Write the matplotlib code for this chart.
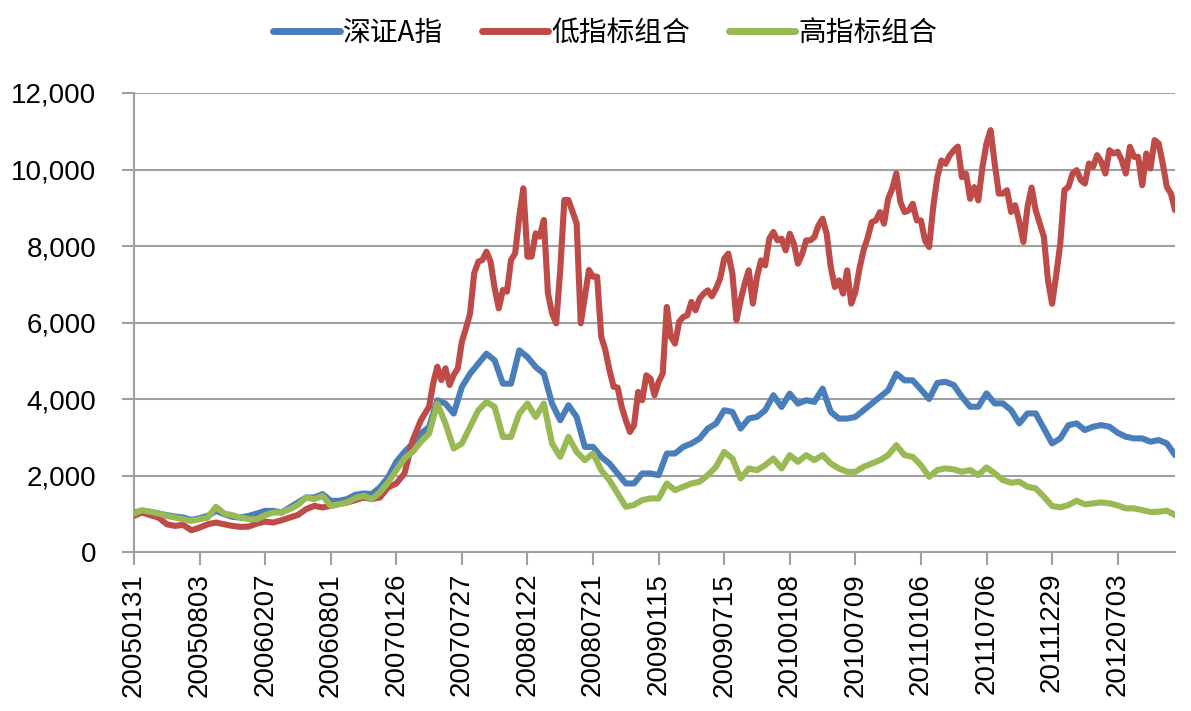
import numpy as np
import matplotlib
matplotlib.use('Agg')
import matplotlib.pyplot as plt
from matplotlib.ticker import FuncFormatter

# ---- data ----
tick_dates = ['20050131', '20050803', '20060207', '20060801', '20070126',
              '20070727', '20080122', '20080721', '20090115', '20090715',
              '20100108', '20100709', '20110106', '20110706', '20111229',
              '20120703']
days_per_tick = 120          # trading days between labelled categories
sample_step = 15             # trading days between sampled values
fine_step = 7.5              # finer sampling used for the volatile low-indicator series
fine_start_day = 540

series_names = ['深证A指', '低指标组合', '高指标组合']

sz_a = [1033, 1076, 1050, 1006, 963, 928, 901, 840, 884, 945, 1076, 989, 919, 901, 945, 1006,
        1076, 1076, 1033, 1164, 1295, 1426, 1426, 1514, 1339, 1339, 1383, 1496, 1531, 1514, 1689, 1951,
        2358, 2619, 2836, 3097, 3271, 3967, 3880, 3619, 4315, 4663, 4924, 5185, 5011, 4402, 4402, 5272,
        5098, 4837, 4663, 3880, 3445, 3837, 3532, 2749, 2749, 2488, 2314, 2053, 1792, 1792, 2053, 2053,
        2010, 2575, 2575, 2749, 2836, 2967, 3228, 3358, 3706, 3663, 3228, 3489, 3532, 3706, 4098, 3793,
        4141, 3880, 3967, 3924, 4272, 3663, 3489, 3489, 3532, 3706, 3880, 4054, 4228, 4663, 4489, 4489,
        4250, 4000, 4420, 4451, 4364, 4059, 3798, 3798, 4146, 3885, 3885, 3710, 3362, 3623, 3623, 3231,
        2839, 2970, 3318, 3362, 3188, 3275, 3318, 3275, 3118, 3014, 2970, 2970, 2883, 2927, 2839, 2535]

low_combo_early = [945, 1033, 963, 901, 726, 683, 709, 569, 639, 726, 770, 726, 683, 656, 665, 744,
                   796, 770, 831, 901, 971, 1120, 1208, 1164, 1208, 1251, 1295, 1356, 1426, 1383, 1426,
                   1689, 1792, 2053, 2923, 3445]

low_combo_late = [3800, 4410, 4845, 4497, 4802, 4366, 4627, 4802, 5499, 5847, 6240, 7285, 7590, 7634,
                  7852, 7590, 6893, 6370, 6850, 6806, 7634, 7808, 8767, 9508, 7721, 7721, 8331, 8244,
                  8680, 6763, 6240, 5978, 7372, 9203, 9203, 8898, 8593, 5978, 6675, 7372, 7198, 7198,
                  5630, 5281, 4758, 4322, 4300, 3793, 3445, 3140, 3314, 4185, 3967, 4620, 4533, 4098,
                  4446, 4664, 6406, 5622, 5448, 6014, 6145, 6188, 6537, 6319, 6624, 6754, 6842, 6685,
                  6885, 7146, 7669, 7800, 7277, 6060, 6580, 7016, 7364, 6493, 7190, 7625, 7495, 8192,
                  8366, 8148, 8192, 7887, 8322, 8061, 7538, 7780, 8147, 8147, 8234, 8538, 8712, 8321,
                  7451, 6929, 7103, 6755, 7364, 6494, 6798, 7407, 7886, 8216, 8625, 8669, 8886, 8582,
                  9234, 9495, 9900, 9147, 8886, 8930, 9104, 8669, 8669, 8147, 7973, 9017, 9800, 10235,
                  10148, 10365, 10496, 10600, 9800, 9887, 9234, 9539, 9191, 10061, 10681, 11030, 10157,
                  9371, 9371, 9459, 8891, 9066, 8629, 8106, 9022, 9529, 8935, 8586, 8237, 7102, 6490,
                  7233, 8062, 9459, 9546, 9895, 9983, 9721, 9633, 10157, 10070, 10375, 10201, 9895,
                  10506, 10419, 10463, 10244, 9895, 10594, 10332, 10332, 9590, 10419, 10026, 10768,
                  10681, 10157, 9546, 9371, 8935]

high_combo = [1006, 1094, 1050, 1006, 945, 901, 858, 814, 858, 901, 1181, 1006, 963, 901, 858, 858,
              963, 1033, 1033, 1120, 1234, 1426, 1383, 1470, 1208, 1251, 1295, 1409, 1470, 1383, 1558, 1820,
              2140, 2445, 2619, 2880, 3097, 3880, 3358, 2706, 2836, 3271, 3706, 3924, 3793, 3010, 3010, 3619,
              3880, 3532, 3880, 2836, 2488, 3010, 2619, 2401, 2575, 2140, 1879, 1531, 1180, 1230, 1357, 1401,
              1401, 1792, 1618, 1705, 1792, 1836, 2010, 2227, 2619, 2445, 1923, 2184, 2140, 2271, 2445, 2184,
              2532, 2358, 2532, 2401, 2532, 2314, 2184, 2097, 2097, 2227, 2314, 2401, 2532, 2793, 2532, 2488,
              2271, 1966, 2143, 2186, 2160, 2099, 2143, 2012, 2212, 2056, 1881, 1812, 1838, 1707, 1664, 1446,
              1202, 1167, 1228, 1341, 1246, 1272, 1298, 1272, 1219, 1141, 1141, 1097, 1045, 1054, 1080, 967]

colors = ['#4A7EBB', '#BE4B48', '#98B954']

# ---- figure ----
plt.rcParams['font.family'] = ['Liberation Sans', 'DejaVu Sans']
fig = plt.figure(figsize=(11.91, 7.11), dpi=100)
ax = fig.add_axes([0.1125, 0.2236, 0.8741, 0.6456])

x_std = np.arange(len(sz_a)) * sample_step
x_low = np.concatenate([np.arange(len(low_combo_early)) * sample_step,
                        fine_start_day + np.arange(len(low_combo_late)) * fine_step])
low_combo = low_combo_early + low_combo_late

for xs, vals, name, c in zip([x_std, x_low, x_std], [sz_a, low_combo, high_combo],
                             series_names, colors):
    ax.plot(xs, vals, color=c, lw=4.4, label=name, solid_joinstyle='round',
            solid_capstyle='round', zorder=3)

grid_c = '#A0A0A0'
ax.set_ylim(0, 12000)
ax.set_yticks(np.arange(0, 12001, 2000))
ax.yaxis.set_major_formatter(FuncFormatter(lambda v, p: f'{int(v):,}'))
ax.grid(axis='y', color=grid_c, lw=1.5, zorder=0)
ax.set_xlim(0, x_std[-1])
ax.set_xticks(np.arange(len(tick_dates)) * days_per_tick)
ax.set_xticklabels(tick_dates, rotation=90)

for s in ['top', 'right']:
    ax.spines[s].set_visible(False)
for s in ['left', 'bottom']:
    ax.spines[s].set_color(grid_c)
    ax.spines[s].set_linewidth(1.5)
ax.tick_params(axis='y', direction='out', length=9, width=1.5, color=grid_c,
               labelsize=20, pad=18)
ax.tick_params(axis='x', direction='out', length=9, width=1.5, color=grid_c,
               labelsize=20, pad=6)

leg = fig.legend(loc='center', bbox_to_anchor=(0.508, 0.954), ncol=3, frameon=False,
                 handlelength=2.4, handletextpad=0.1, columnspacing=1.4,
                 prop={'family': ['Noto Sans CJK SC', 'DejaVu Sans'], 'size': 20})
for h in leg.get_lines():
    h.set_linewidth(5)

fig.savefig('out.png', dpi=100)
